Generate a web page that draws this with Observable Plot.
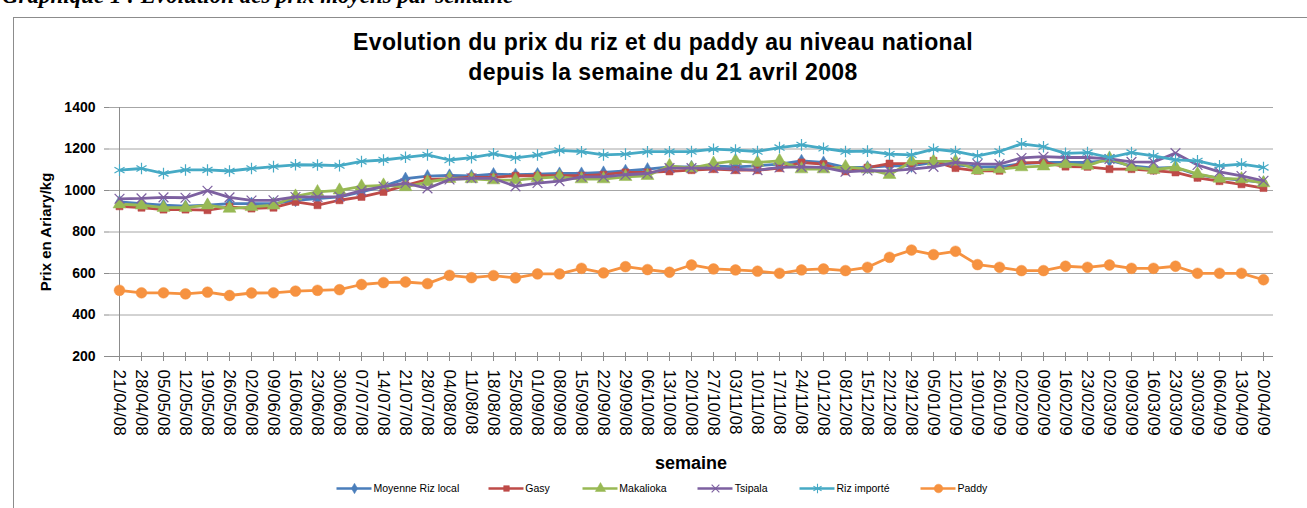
<!DOCTYPE html>
<html><head><meta charset="utf-8">
<script src="https://cdn.jsdelivr.net/npm/d3@7"></script>
<script src="https://cdn.jsdelivr.net/npm/@observablehq/plot@0.6"></script>
<style>
body{margin:0;background:#fff;width:1307px;height:508px;overflow:hidden;position:relative;font-family:"Liberation Sans",Arial,sans-serif;}
#cap{position:absolute;left:2px;top:-16px;font-family:"Liberation Serif",serif;font-style:italic;font-weight:bold;font-size:23px;line-height:23px;white-space:nowrap;}
#box{position:absolute;left:13px;top:17px;width:1300px;height:500px;border:1px solid #8c8c8c;}
#title{position:absolute;left:0;width:1326px;top:27px;text-align:center;font-family:"Liberation Sans",Arial,sans-serif;font-weight:bold;font-size:23px;line-height:30px;letter-spacing:0.4px;}
#chart{position:absolute;left:0;top:0;}
#ylab{position:absolute;left:45px;top:232px;transform:translate(-50%,-50%) rotate(-90deg);font-weight:bold;font-size:15px;white-space:nowrap;}
#xlab{position:absolute;left:691px;top:463px;transform:translate(-50%,-50%);font-weight:bold;font-size:18px;}
#legend{position:absolute;left:660px;top:488px;transform:translate(-50%,-50%);display:flex;gap:36px;font-size:10.5px;white-space:nowrap;}
.li{display:flex;align-items:center;gap:2px;}
</style></head>
<body>
<div id="cap">Graphique 1 : Evolution des prix moyens par semaine</div>
<div id="box"></div>
<div id="chart"></div>
<div id="title">Evolution du prix du riz et du paddy au niveau national<br>depuis la semaine du 21 avril 2008</div>
<div id="ylab">Prix en Ariary/kg</div>
<div id="xlab">semaine</div>
<div id="legend"></div>
<script>
const weeks = ["21/04/08","28/04/08","05/05/08","12/05/08","19/05/08","26/05/08","02/06/08","09/06/08","16/06/08","23/06/08","30/06/08","07/07/08","14/07/08","21/07/08","28/07/08","04/08/08","11/08/08","18/08/08","25/08/08","01/09/08","08/09/08","15/09/08","22/09/08","29/09/08","06/10/08","13/10/08","20/10/08","27/10/08","03/11/08","10/11/08","17/11/08","24/11/08","01/12/08","08/12/08","15/12/08","22/12/08","29/12/08","05/01/09","12/01/09","19/01/09","26/01/09","02/02/09","09/02/09","16/02/09","23/02/09","02/03/09","09/03/09","16/03/09","23/03/09","30/03/09","06/04/09","13/04/09","20/04/09"];

const moyenne = [945,937,929,924,929,937,937,937,953,961,969,993,1020,1057,1069,1073,1070,
 1079,1076,1079,1082,1082,1087,1095,1103,1114,1114,1119,1114,1119,1127,1143,1135,1111,1112,
 1119,1119,1135,1124,1114,1114,1130,1135,1135,1135,1145,1119,1108,1111,1076,1060,1050,1039];
const gasy = [924,917,908,908,905,921,913,917,945,929,953,969,993,1025,1053,1057,1064,
 1063,1071,1071,1071,1071,1076,1087,1087,1092,1098,1103,1098,1098,1108,1135,1127,1092,1110,
 1130,1130,1143,1108,1095,1095,1133,1136,1115,1114,1103,1103,1096,1087,1061,1045,1030,1012];
const makalioka = [934,929,917,917,929,913,921,929,972,993,1001,1020,1025,1017,1041,1057,1056,
 1050,1050,1060,1066,1055,1055,1066,1071,1119,1108,1130,1143,1135,1143,1103,1103,1114,1103,
 1076,1140,1140,1140,1098,1103,1113,1117,1128,1120,1155,1113,1100,1112,1080,1058,1055,1036];
const tsipala = [960,962,967,965,999,967,952,953,969,969,970,999,1019,1035,1010,1053,1059,
 1058,1020,1036,1045,1066,1066,1076,1082,1108,1108,1108,1103,1098,1111,1114,1111,1090,1096,
 1095,1103,1114,1135,1128,1127,1157,1163,1159,1159,1152,1138,1137,1180,1123,1090,1070,1047];
const rizImporte = [1098,1106,1082,1099,1099,1094,1106,1115,1124,1123,1120,1140,1147,1160,1172,1147,1158,
 1177,1157,1171,1193,1187,1172,1175,1187,1187,1188,1199,1195,1188,1207,1220,1203,1188,1190,
 1175,1172,1199,1188,1167,1188,1225,1211,1179,1183,1159,1183,1167,1148,1143,1119,1127,1111];
const paddy = [519,507,507,502,510,494,506,507,515,519,522,547,556,559,551,591,580,
 590,579,598,598,625,603,633,619,606,641,622,617,611,601,617,622,614,630,
 678,713,691,707,643,630,614,614,635,630,641,625,625,635,601,601,601,570];

const seriesNames = ["Moyenne Riz local","Gasy","Makalioka","Tsipala","Riz importé","Paddy"];
const seriesValues = [moyenne,gasy,makalioka,tsipala,rizImporte,paddy];
const yTicks = [200,400,600,800,1000,1200,1400];

const colors = ["#4A7EBB","#BE4B48","#98B954","#7D60A0","#46AAC5","#F69240"];
const symbols = ["diamond","square","triangle","times","asterisk","circle"];
const radii = [4,4,4.8,4.5,5.5,5.4];
const filled = [true,true,true,false,false,true];

const W = 1307, H = 508, mL = 109, mR = 34, mT = 107, mB = 152;
const marks = [
  Plot.gridY(yTicks,{stroke:"#a6a6a6",strokeOpacity:1}),
  Plot.tickX(weeks,{x:d=>d,stroke:"#8c8c8c",insetTop:(H-mT-mB)-4}),
  Plot.ruleY([200],{stroke:"#8c8c8c"}),
  Plot.ruleX([weeks[0]],{stroke:"#8c8c8c"}),
  Plot.axisY(yTicks,{tickSize:5,tickPadding:9,fontSize:14,fontWeight:"bold",tickFormat:d=>String(d),stroke:"#8c8c8c",fill:"#000"}),
  Plot.axisX({tickRotate:90,tickSize:5,tickPadding:8,fontSize:17,stroke:"#8c8c8c",fill:"#000"})
];
seriesNames.forEach((name,si)=>{
  const rows = seriesValues[si].map((v,i)=>({week:weeks[i],value:v}));
  marks.push(Plot.line(rows,{x:"week",y:"value",stroke:colors[si],strokeWidth:2.8}));
  marks.push(Plot.dot(rows,{x:"week",y:"value",symbol:symbols[si],r:radii[si],
    fill: filled[si]?colors[si]:"none", stroke:colors[si], strokeWidth: filled[si]?0.5:1.2}));
});

const chart = Plot.plot({
  width:W,height:H,
  marginLeft:mL,marginRight:mR,marginTop:mT,marginBottom:mB,
  x:{type:"point",domain:weeks,padding:0,label:null},
  y:{domain:[200,1400],label:null},
  style:{fontFamily:"'Liberation Sans',Arial,sans-serif",background:"transparent",overflow:"visible"},
  marks
});
document.getElementById("chart").appendChild(chart);

const leg = document.getElementById("legend");
seriesNames.forEach((name,si)=>{
  const item = document.createElement("div");
  item.className="li";
  const sw = Plot.plot({width:35,height:12,margin:0,
    x:{domain:[0,2],axis:null},y:{domain:[0,2],axis:null},
    style:{background:"transparent",overflow:"visible"},
    marks:[Plot.ruleY([1],{x1:0,x2:2,stroke:colors[si],strokeWidth:2.5}),
      Plot.dot([{x:1,y:1}],{x:"x",y:"y",symbol:symbols[si],r:radii[si]*0.8,
        fill: filled[si]?colors[si]:"none", stroke:colors[si], strokeWidth:filled[si]?0.5:1.1})]});
  item.appendChild(sw);
  const t = document.createElement("span");
  t.textContent = name;
  item.appendChild(t);
  leg.appendChild(item);
});
</script>
</body></html>
